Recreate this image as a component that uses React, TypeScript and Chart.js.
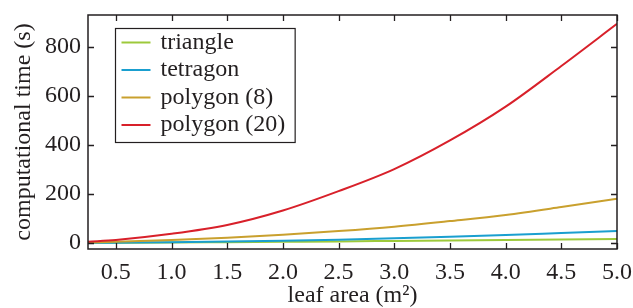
import React, { useEffect, useRef } from "react";
import { Chart, registerables } from "chart.js";

Chart.register(...registerables);

const leafArea = [0.25, 0.5, 1.0, 1.5, 2.0, 2.5, 3.0, 3.5, 4.0, 4.5, 5.0];
const triangle = [0, 0.5, 1.5, 3, 4.5, 6, 8, 10, 12, 14, 16];
const tetragon = [0, 1, 3, 6, 9, 13, 19, 25, 32, 40, 48];
const polygon8 = [2, 5, 12, 21, 33, 48, 66, 89, 114, 146, 180];
const polygon20 = [5, 12, 37, 73, 132, 211, 301, 418, 556, 722, 894];
const xTicks = [0.5, 1.0, 1.5, 2.0, 2.5, 3.0, 3.5, 4.0, 4.5, 5.0];
const yTicks = [0, 200, 400, 600, 800];

const seriesNames = ["triangle", "tetragon", "polygon (8)", "polygon (20)"];
const seriesColors = ["#9dc93b", "#1a9fcf", "#c9a02e", "#d8202a"];
const seriesValues = [triangle, tetragon, polygon8, polygon20];

const FONT = "'Liberation Serif', 'Times New Roman', serif";
const INK = "#231f20";
const FS = 24;

const innerTicks = {
  id: "innerTicks",
  afterDatasetsDraw(chart: any) {
    const { ctx, chartArea } = chart;
    const xs = chart.scales.x;
    const ys = chart.scales.y;
    const L = 6;
    ctx.save();
    ctx.strokeStyle = INK;
    ctx.lineWidth = 1.3;
    ctx.beginPath();
    xs.ticks.forEach((t: any) => {
      const px = Math.round(xs.getPixelForValue(t.value)) + 0.5;
      ctx.moveTo(px, chartArea.bottom);
      ctx.lineTo(px, chartArea.bottom - L);
      ctx.moveTo(px, chartArea.top);
      ctx.lineTo(px, chartArea.top + L);
    });
    ys.ticks.forEach((t: any) => {
      const py = Math.round(ys.getPixelForValue(t.value)) + 0.5;
      ctx.moveTo(chartArea.left, py);
      ctx.lineTo(chartArea.left + L, py);
      ctx.moveTo(chartArea.right, py);
      ctx.lineTo(chartArea.right - L, py);
    });
    ctx.stroke();
    ctx.lineWidth = 1.5;
    ctx.strokeRect(chartArea.left, chartArea.top, chartArea.right - chartArea.left, chartArea.bottom - chartArea.top);
    ctx.restore();
  },
};

const boxLegend = {
  id: "boxLegend",
  afterDraw(chart: any) {
    const { ctx, chartArea } = chart;
    const ds = chart.data.datasets;
    const x0 = chartArea.left + 27.5;
    const y0 = chartArea.top + 13.5;
    const rowH = 27.5;
    ctx.save();
    ctx.font = `${FS}px ${FONT}`;
    let maxW = 0;
    const order = [0, 1, 2, 3];
    order.forEach((i) => {
      maxW = Math.max(maxW, ctx.measureText(ds[i].label).width);
    });
    const w = 45 + maxW + 10;
    const h = rowH * order.length + 4;
    ctx.fillStyle = "#ffffff";
    ctx.fillRect(x0, y0, w, h);
    ctx.strokeStyle = INK;
    ctx.lineWidth = 1.2;
    ctx.strokeRect(x0, y0, w, h);
    ctx.textBaseline = "middle";
    order.forEach((i, k) => {
      const cy = y0 + 14 + k * rowH;
      ctx.strokeStyle = ds[i].borderColor;
      ctx.lineWidth = 2;
      ctx.beginPath();
      ctx.moveTo(x0 + 6, cy);
      ctx.lineTo(x0 + 35, cy);
      ctx.stroke();
      ctx.fillStyle = INK;
      ctx.fillText(ds[i].label, x0 + 45, cy);
    });
    ctx.restore();
  },
};

export default function App() {
  const ref = useRef<HTMLCanvasElement>(null);
  useEffect(() => {
    document.body.style.margin = "0";
    const canvas = ref.current!;
    const chart = new Chart(canvas, {
      type: "line",
      data: {
        datasets: seriesNames.map((name, i) => ({
          label: name,
          data: leafArea.map((x, j) => ({ x, y: seriesValues[i][j] })),
          borderColor: seriesColors[i],
          backgroundColor: seriesColors[i],
          borderWidth: 2,
          pointRadius: 0,
          cubicInterpolationMode: "monotone",
          fill: false,
          order: 3 - i,
        })),
      },
      options: {
        animation: false,
        responsive: false,
        maintainAspectRatio: false,
        layout: { padding: { top: 15, right: 16, left: 0, bottom: 0 } },
        plugins: { legend: { display: false }, tooltip: { enabled: false } },
        scales: {
          x: {
            type: "linear",
            min: 0.25,
            max: 5.0,
            afterBuildTicks: (s: any) => {
              s.ticks = xTicks.map((v) => ({ value: v }));
            },
            afterFit: (s: any) => {
              s.height = 59;
              s.paddingLeft = 0;
              s.paddingRight = 0;
              s.paddingTop = 0;
              s.paddingBottom = 0;
            },
            grid: { display: false, drawTicks: false },
            border: { display: false },
            ticks: {
              color: INK,
              font: { family: FONT, size: FS },
              padding: 9,
              maxRotation: 0,
              autoSkip: false,
              callback: (v: any) => Number(v).toFixed(1),
            },
            title: {
              display: true,
              text: "leaf area (m²)",
              color: INK,
              font: { family: FONT, size: FS, lineHeight: 1 },
              padding: { top: 0, bottom: 0 },
            },
          },
          y: {
            type: "linear",
            min: -25,
            max: 930,
            afterBuildTicks: (s: any) => {
              s.ticks = yTicks.map((v) => ({ value: v }));
            },
            afterFit: (s: any) => {
              s.width = 88;
              s.paddingLeft = 0;
              s.paddingRight = 0;
              s.paddingTop = 0;
              s.paddingBottom = 0;
            },
            grid: { display: false, drawTicks: false },
            border: { display: false },
            ticks: {
              color: INK,
              font: { family: FONT, size: FS },
              padding: 7,
              autoSkip: false,
            },
            title: {
              display: true,
              text: "computational time (s)",
              color: INK,
              font: { family: FONT, size: FS },
              padding: { top: 9, bottom: 0 },
            },
          },
        },
      },
      plugins: [innerTicks, boxLegend],
    } as any);
    return () => chart.destroy();
  }, []);
  return (
    <div style={{ width: 633, height: 308 }}>
      <canvas ref={ref} width={633} height={308} style={{ width: 633, height: 308 }} />
    </div>
  );
}
